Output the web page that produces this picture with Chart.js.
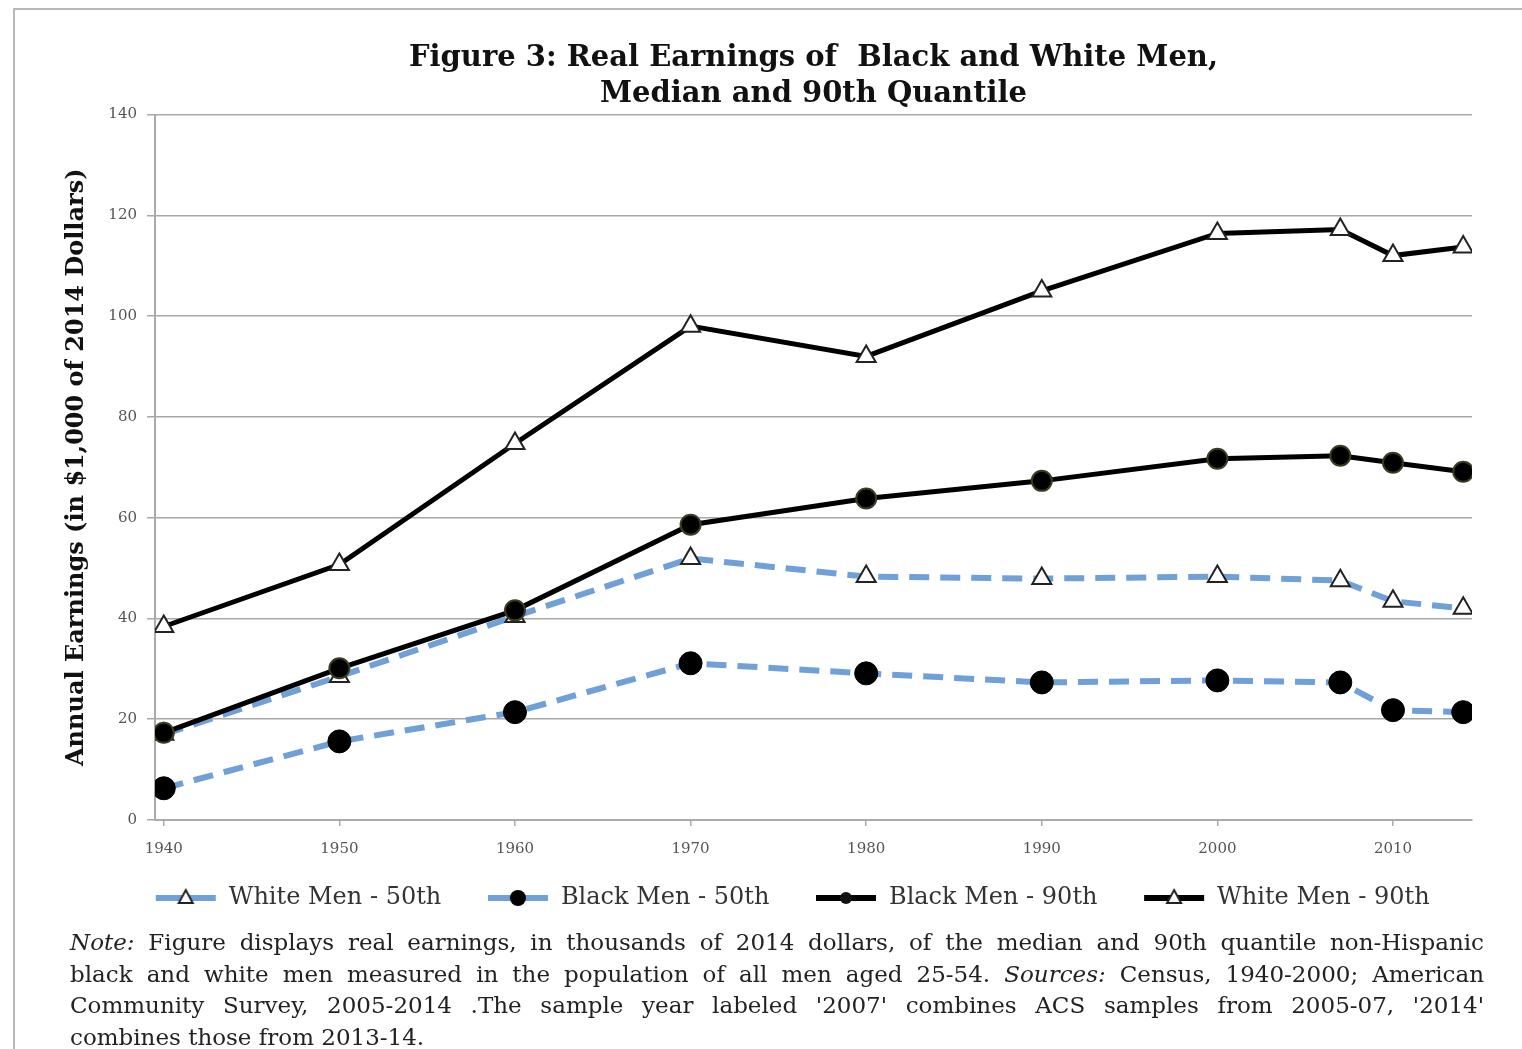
<!DOCTYPE html>
<html>
<head>
<meta charset="utf-8">
<script src="https://cdn.jsdelivr.net/npm/chart.js@4"></script>
<style>
  body { margin: 0; background: #fff; }
  #frame { position: absolute; left: 13px; top: 8px; width: 1520px; height: 1050px;
           border-left: 2px solid #b8b8b8; border-top: 2px solid #b8b8b8; }
  #wrap { position: absolute; left: 0; top: 0; width: 1522px; height: 928px; }
  #note { position: absolute; left: 70px; top: 927px; width: 1414px;
          font: 23px "DejaVu Serif", serif; line-height: 31.5px; color: #222; }
  #note div { text-align: justify; text-align-last: justify; white-space: nowrap; }
  #note div.last { text-align-last: left; }
</style>
</head>
<body>
<div id="frame"></div>
<div id="wrap"><canvas id="myChart"></canvas></div>
<div id="note">
  <div><i>Note:</i> Figure displays real earnings, in thousands of 2014 dollars, of the median and 90th quantile non-Hispanic</div>
  <div>black and white men measured in the population of all men aged 25-54. <i>Sources:</i> Census, 1940-2000; American</div>
  <div>Community Survey, 2005-2014 .The sample year labeled '2007' combines ACS samples from 2005-07, '2014'</div>
  <div class="last">combines those from 2013-14.</div>
</div>
<script>
// survey years (2007 and 2014 are ACS pooled samples)
var years = [1940, 1950, 1960, 1970, 1980, 1990, 2000, 2007, 2010, 2014];
// thousands of 2014 dollars
var whiteMen50 = [17.0, 28.5, 40.4, 51.9, 48.3, 47.9, 48.3, 47.5, 43.4, 42.0];
var blackMen50 = [6.3, 15.6, 21.4, 31.1, 29.1, 27.3, 27.7, 27.3, 21.8, 21.4];
var blackMen90 = [17.3, 30.1, 41.6, 58.6, 63.8, 67.3, 71.7, 72.3, 70.9, 69.1];
var whiteMen90 = [38.4, 50.7, 74.7, 98.0, 92.0, 105.0, 116.4, 117.2, 112.0, 113.7];
var seriesNames = ["White Men - 50th", "Black Men - 50th", "Black Men - 90th", "White Men - 90th"];

var BLUE = "#6fa0d8";
var SERIF = "'DejaVu Serif', serif";

function points(values) {
  return years.map(function (y, i) {
    return { x: y, y: values[i] };
  });
}

// little line + marker picture for the legend
function legendSample(lineColor, marker) {
  var c = document.createElement("canvas");
  c.width = 62;
  c.height = 24;
  var g = c.getContext("2d");
  g.strokeStyle = lineColor;
  g.lineWidth = 6;
  g.beginPath();
  g.moveTo(1, 12);
  g.lineTo(61, 12);
  g.stroke();
  if (marker === "triangle") {
    g.fillStyle = "#fff";
    g.strokeStyle = "#222";
    g.lineWidth = 2;
    g.beginPath();
    g.moveTo(31, 4);
    g.lineTo(38, 17);
    g.lineTo(24, 17);
    g.closePath();
    g.fill();
    g.stroke();
  } else if (marker === "bigdot") {
    g.fillStyle = "#000";
    g.beginPath();
    g.arc(31, 12, 8, 0, Math.PI * 2);
    g.fill();
  } else {
    g.fillStyle = "#111";
    g.beginPath();
    g.arc(31, 12, 6, 0, Math.PI * 2);
    g.fill();
  }
  return c;
}

var samples = [
  legendSample(BLUE, "triangle"),
  legendSample(BLUE, "bigdot"),
  legendSample("#000", "dot"),
  legendSample("#000", "triangle"),
];

// nudge the legend row so it starts under the y axis like the original
var legendShift = {
  id: "legendShift",
  afterLayout: function (chart) {
    if (chart.legend) {
      chart.legend.left += 47;
      chart.legend.right += 47;
    }
  },
};

var ctx = document.getElementById("myChart").getContext("2d");
var myChart = new Chart(ctx, {
  type: "line",
  data: {
    datasets: [
      {
        label: seriesNames[0],
        data: points(whiteMen50),
        borderColor: BLUE,
        borderWidth: 6,
        borderDash: [20, 11],
        pointStyle: "triangle",
        pointRadius: 11,
        pointBackgroundColor: "#fff",
        pointBorderColor: "#222",
        pointBorderWidth: 2,
        order: 4,
      },
      {
        label: seriesNames[1],
        data: points(blackMen50),
        borderColor: BLUE,
        borderWidth: 6,
        borderDash: [20, 11],
        pointStyle: "circle",
        pointRadius: 11.5,
        pointBackgroundColor: "#000",
        pointBorderColor: "#000",
        pointBorderWidth: 1,
        order: 3,
      },
      {
        label: seriesNames[2],
        data: points(blackMen90),
        borderColor: "#000",
        borderWidth: 5,
        pointStyle: "circle",
        pointRadius: 10,
        pointBackgroundColor: "#000",
        pointBorderColor: "#3b3b22",
        pointBorderWidth: 2,
        order: 1,
      },
      {
        label: seriesNames[3],
        data: points(whiteMen90),
        borderColor: "#000",
        borderWidth: 5,
        pointStyle: "triangle",
        pointRadius: 11,
        pointBackgroundColor: "#fff",
        pointBorderColor: "#222",
        pointBorderWidth: 2,
        order: 2,
      },
    ],
  },
  options: {
    responsive: true,
    maintainAspectRatio: false,
    animation: false,
    layout: { padding: { left: 50, right: 50, top: 10, bottom: 8 } },
    plugins: {
      title: {
        display: true,
        fullSize: false,
        text: ["Figure 3: Real Earnings of  Black and White Men,", "Median and 90th Quantile"],
        font: { family: SERIF, size: 29, weight: "bold", lineHeight: 1.25 },
        color: "#111",
        padding: { top: 30, bottom: 2 },
      },
      legend: {
        position: "bottom",
        labels: {
          usePointStyle: true,
          pointStyleWidth: 62,
          padding: 14,
          color: "#333",
          font: { family: SERIF, size: 24 },
          generateLabels: function (chart) {
            return chart.data.datasets.map(function (ds, i) {
              return {
                // trailing em space widens the gap between legend entries
                text: ds.label + " \u2003",
                pointStyle: samples[i],
                datasetIndex: i,
                fontColor: "#333",
                lineWidth: 0,
                strokeStyle: "transparent",
                fillStyle: "transparent",
              };
            });
          },
        },
      },
      tooltip: { enabled: false },
    },
    scales: {
      x: {
        type: "linear",
        min: 1939.5,
        max: 2014.5,
        ticks: {
          stepSize: 10,
          includeBounds: false,
          padding: 14,
          color: "#555",
          font: { family: SERIF, size: 15 },
          callback: function (v) {
            return String(v);
          },
        },
        grid: { drawOnChartArea: false, tickLength: 6, color: "#aaa", lineWidth: 1.5 },
        border: { color: "#aaa", width: 2 },
      },
      y: {
        min: 0,
        max: 140,
        ticks: {
          stepSize: 20,
          padding: 10,
          color: "#555",
          font: { family: SERIF, size: 15 },
        },
        grid: { color: "#a8a8a8", lineWidth: 1.5, tickLength: 8 },
        border: { color: "#aaa", width: 2 },
        title: {
          display: true,
          text: "Annual Earnings (in $1,000 of 2014 Dollars)",
          font: { family: SERIF, size: 24, weight: "bold" },
          color: "#111",
          padding: { top: 12, bottom: 0 },
        },
        afterFit: function (scale) {
          scale.width = 105;
        },
      },
    },
  },
  plugins: [legendShift],
});
</script>
</body>
</html>
